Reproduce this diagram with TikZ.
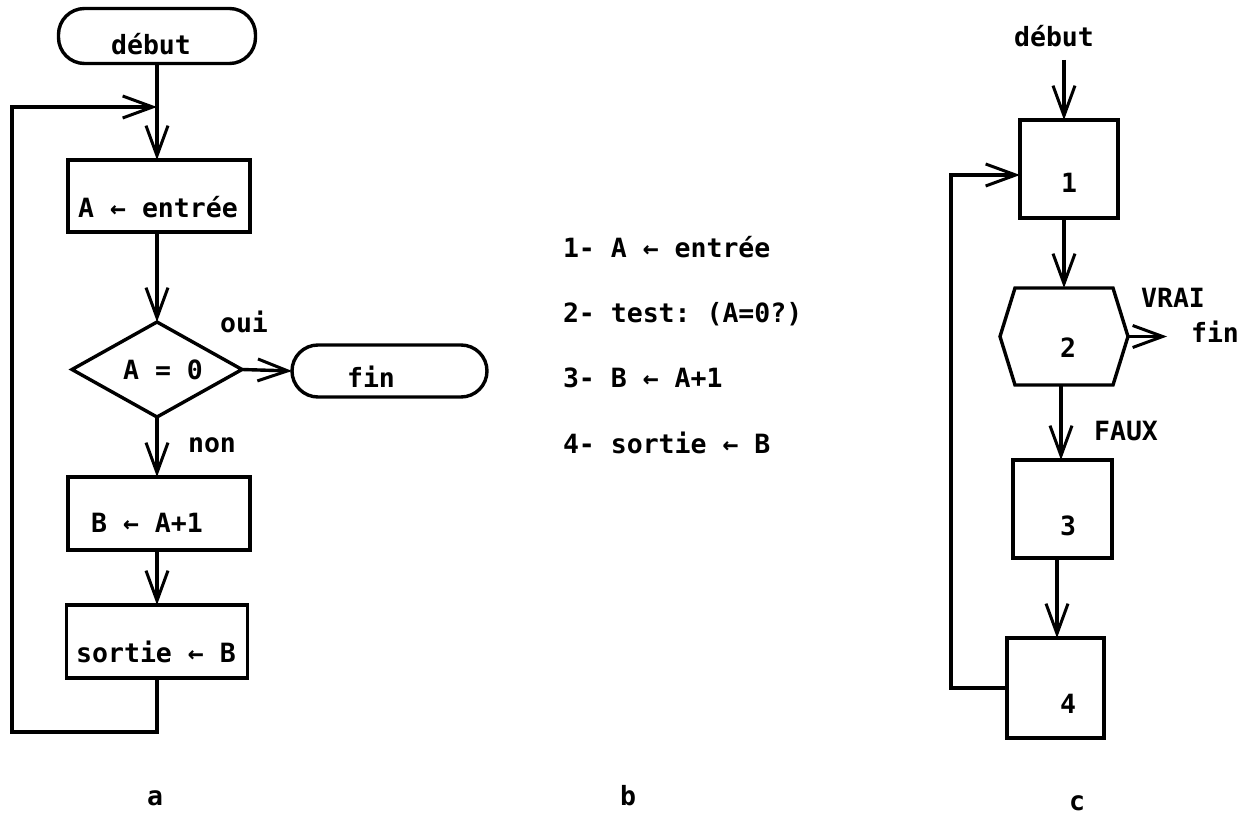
\documentclass[tikz,border=0pt]{standalone}
\usepackage{fontspec}
\setmonofont{DejaVu Sans Mono}
\usetikzlibrary{arrows.meta,shapes.geometric}
\begin{document}
\begin{tikzpicture}[x=1pt,y=-1pt,line width=3.4pt,line join=miter,
  every node/.style={font=\ttfamily\bfseries\fontsize{26.5}{30}\selectfont,inner sep=0pt,outer sep=0pt},
  arr/.style={-{Straight Barb[length=30pt,width=22pt,line width=3pt]}},
  procbox/.style={draw,rectangle},
  term/.style={draw,rectangle,rounded corners=26pt},
  cond/.style={draw,diamond,shape aspect=1.8},
  txt/.style={anchor=base}]
\useasboundingbox (0,0) rectangle (1256,818);
% ---------- a ----------
\node[term,minimum width=197pt,minimum height=55pt] (debA) at (157,36) {};
\node[txt] (tdebA) at (151,55) {début};
\node[procbox,minimum width=182pt,minimum height=72pt] (b1) at (159,196) {};
\node[txt] (tb1) at (158,218) {A ← entrée};
\node[cond,minimum width=170pt,minimum height=95pt] (d) at (157,369.5) {};
\node[txt] (td) at (163,380) {A = 0};
\node[term,minimum width=195pt,minimum height=52pt] (finA) at (389.5,371) {};
\node[txt] (tfinA) at (371,387) {fin};
\node[txt] (oui) at (244,333) {oui};
\node[txt] (non) at (212,452) {non};
\node[procbox,minimum width=182pt,minimum height=73pt] (b2) at (159,513.5) {};
\node[txt] (tb2) at (147,532) {B ← A+1};
\node[procbox,minimum width=181pt,minimum height=73pt] (b3) at (157,641.5) {};
\node[txt] (tb3) at (156,662) {sortie ← B};
\node[txt] (la) at (155,805) {a};
\coordinate (j) at (157,107);
\draw[arr] (debA.south) -- (debA.south |- b1.north);
\draw[arr] (b1.south -| d.north) -- (d.north);
\draw[arr] (d.east) -- (finA.west);
\draw[arr] (d.south) -- (d.south |- b2.north);
\draw[arr] (b2.south -| b3.north) -- (b3.north);
\draw[arr] (b3.south) -- ++(0,54) -| (12,107) -- (j);
% ---------- b ----------
\node[anchor=base west] (l1) at (563,258) {1- A ← entrée};
\node[anchor=base west] (l2) at (563,323) {2- test: (A=0?)};
\node[anchor=base west] (l3) at (563,388) {3- B ← A+1};
\node[anchor=base west] (l4) at (563,453) {4- sortie ← B};
\node[txt] (lb) at (628,805) {b};
% ---------- c ----------
\node[txt] (debC) at (1054,47) {début};
\coordinate (cs) at (1064,60);
\node[procbox,minimum width=98pt,minimum height=98pt] (c1) at (1069,169) {};
\node[txt] (t1) at (1069,193) {1};
\node[minimum width=128pt,minimum height=97pt] (h2) at (1064,336.5) {};
\draw ([xshift=15pt]h2.north west) -- ([xshift=-15pt]h2.north east) -- (h2.east)
  -- ([xshift=-15pt]h2.south east) -- ([xshift=15pt]h2.south west) -- (h2.west) -- cycle;
\node[txt] (t2) at (1068,357) {2};
\node[txt] (vrai) at (1173,308) {VRAI};
\node[txt] (finC) at (1215,343) {fin};
\node[txt] (faux) at (1126,440) {FAUX};
\node[procbox,minimum width=99pt,minimum height=98pt] (c3) at (1062.5,509) {};
\node[txt] (t3) at (1068,535) {3};
\node[procbox,minimum width=97pt,minimum height=100pt] (c4) at (1055.5,688) {};
\node[txt] (t4) at (1068,713) {4};
\node[txt] (lc) at (1077,810) {c};
\draw[arr] (cs) -- (cs |- c1.north);
\draw[arr] (c1.south -| h2.north) -- (h2.north);
\draw[arr] (h2.east) -- ++(39,0);
\draw[arr] (h2.south -| 1061,0) -- (c3.north -| 1061,0);
\draw[arr] (c3.south -| 1057,0) -- (c4.north -| 1057,0);
\draw[arr] (c4.west) -- ++(-56,0) |- ([yshift=-6pt]c1.west);
\end{tikzpicture}
\end{document}
